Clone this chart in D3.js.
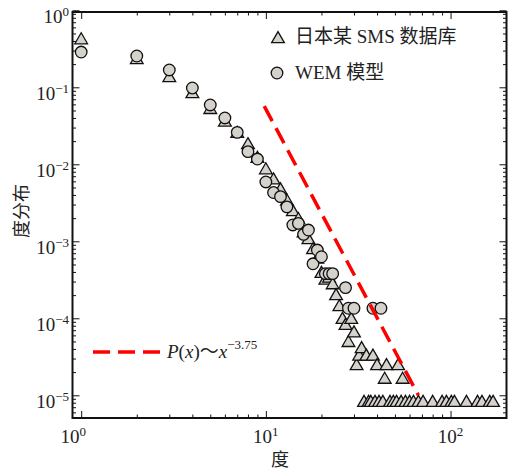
<!DOCTYPE html>
<html>
<head>
<meta charset="utf-8">
<script src="https://cdn.jsdelivr.net/npm/d3@7"></script>
<style>
  body { margin: 0; background: #fff; }
  text { font-family: "Liberation Serif", "Noto Sans CJK SC", serif; fill: #222; }
</style>
</head>
<body>
<script>
// SMS data (triangles)
var smsDeg = [1, 2, 3, 4, 5, 6, 7, 8, 9, 10, 11, 12, 13, 14, 15, 16, 17, 18, 19, 20,
  21, 22, 23, 24, 25, 26, 27, 28, 29, 30, 31, 32, 33, 35, 38, 40, 44, 45, 52, 55,
  34, 36, 37, 39, 41, 43, 47, 49, 51, 54, 57, 60, 63, 67,
  71, 80, 90, 95, 101, 105, 122, 140, 148, 163, 170];
var smsP = [0.41, 0.226, 0.132, 0.082, 0.051, 0.035, 0.025, 0.0178, 0.0118, 0.0084,
  0.0062, 0.0046, 0.0033, 0.0024, 0.0019, 0.00127, 0.00104, 0.00077, 0.00058, 0.00038,
  0.00031, 0.00033, 0.00027, 0.000195, 0.00014, 9.6e-5, 8.0e-5, 4.8e-5, 9.6e-5, 6.4e-5,
  2.4e-5, 3.2e-5, 4.0e-5, 3.2e-5, 3.2e-5, 2.4e-5, 1.6e-5, 2.4e-5, 2.4e-5, 1.6e-5,
  8e-6, 8e-6, 8e-6, 8e-6, 8e-6, 8e-6, 8e-6, 8e-6, 8e-6, 8e-6, 8e-6, 8e-6, 8e-6, 8e-6,
  8e-6, 8e-6, 8e-6, 8e-6, 8e-6, 8e-6, 8e-6, 8e-6, 8e-6, 8e-6, 8e-6];

// WEM model (circles)
var wemDeg = [1, 2, 3, 4, 5, 6, 7, 8, 9, 10, 11, 12, 13, 14, 15, 16, 17, 18, 19, 20,
  21, 22, 23, 27, 28, 30, 38, 42];
var wemP = [0.287, 0.255, 0.168, 0.098, 0.059, 0.040, 0.026, 0.0146, 0.0117, 0.0059,
  0.0043, 0.0038, 0.0028, 0.00163, 0.00171, 0.00123, 0.0014, 0.00051, 0.00077, 0.00063,
  0.00038, 0.00038, 0.00038, 0.00025, 0.000135, 0.000135, 0.000135, 0.000135];

// power-law guide line end points
var fitDeg = [9.8, 67];
var fitP = [0.057, 1.0e-5];

var xMajor = [1, 10, 100];
var xExp = ["0", "1", "2"];
var yMajor = [1, 1e-1, 1e-2, 1e-3, 1e-4, 1e-5];
var yExp = ["0", "\u22121", "\u22122", "\u22123", "\u22124", "\u22125"];
var legendLabels = ["日本某 SMS 数据库", "WEM 模型"];

var width = 508, height = 472;
var plotL = 72.5, plotR = 506.5, plotT = 12, plotB = 418;

var svg = d3.select("body").append("svg")
  .attr("width", width)
  .attr("height", height);

var x = d3.scaleLog()
  .domain([Math.pow(10, -0.047), Math.pow(10, 2.303)])
  .range([plotL, plotR]);
var y = d3.scaleLog()
  .domain([Math.pow(10, -5.295), Math.pow(10, -0.022)])
  .range([plotB, plotT]);

function isPow10(v) {
  return Math.abs(Math.log10(v) - Math.round(Math.log10(v))) < 1e-6;
}
function inside(s) {
  var d = s.domain();
  return function(v) { return v > d[0] * 1.01 && v < d[1] * 0.99; };
}
var xMinor = x.ticks().filter(inside(x)).filter(v => !isPow10(v));
var yMinor = y.ticks().filter(inside(y)).filter(v => !isPow10(v));

// ticks, pointing inward on all four sides
function tickAxis(axis, vals, size, tr) {
  var g = svg.append("g").attr("transform", tr)
    .call(axis.tickValues(vals).tickSize(size).tickFormat(""));
  g.select(".domain").remove();
  g.selectAll("line").attr("stroke", "#111").attr("stroke-width", 1);
}
tickAxis(d3.axisBottom(x), xMajor, -7, "translate(0," + plotB + ")");
tickAxis(d3.axisBottom(x), xMinor, -3.5, "translate(0," + plotB + ")");
tickAxis(d3.axisTop(x), xMajor, -7, "translate(0," + plotT + ")");
tickAxis(d3.axisTop(x), xMinor, -3.5, "translate(0," + plotT + ")");
tickAxis(d3.axisLeft(y), yMajor, -7, "translate(" + plotL + ",0)");
tickAxis(d3.axisLeft(y), yMinor, -3.5, "translate(" + plotL + ",0)");
tickAxis(d3.axisRight(y), yMajor, -7, "translate(" + plotR + ",0)");
tickAxis(d3.axisRight(y), yMinor, -3.5, "translate(" + plotR + ",0)");

// frame
svg.append("rect")
  .attr("x", plotL).attr("y", plotT)
  .attr("width", plotR - plotL).attr("height", plotB - plotT)
  .attr("fill", "none").attr("stroke", "#111").attr("stroke-width", 2);

// tick labels
xMajor.forEach(function(v, i) {
  var t = svg.append("text")
    .attr("x", x(v) + (i === 0 ? -8 : 0))
    .attr("y", 443)
    .attr("text-anchor", "middle")
    .attr("font-size", 19);
  t.append("tspan").text("10");
  t.append("tspan").attr("font-size", 13).attr("dy", -7).text(xExp[i]);
});
yMajor.forEach(function(v, i) {
  var t = svg.append("text")
    .attr("x", 69)
    .attr("y", y(v) + 13)
    .attr("text-anchor", "end")
    .attr("font-size", 19);
  t.append("tspan").text("10");
  t.append("tspan").attr("font-size", 13).attr("dy", -7.5).text(yExp[i]);
});

// axis titles
svg.append("text")
  .attr("transform", "translate(22,211) rotate(-90)")
  .attr("text-anchor", "middle")
  .attr("dominant-baseline", "central")
  .attr("font-size", 18)
  .text("度分布");
svg.append("text")
  .attr("x", 280).attr("y", 466)
  .attr("text-anchor", "middle")
  .attr("font-size", 18)
  .text("度");

var markFill = "#d5d2cc";
var tri = d3.symbol().type(d3.symbolTriangle).size(70);

// triangles
svg.append("g").selectAll("path")
  .data(smsDeg.map((d, i) => [d, smsP[i]]))
  .join("path")
  .attr("d", tri)
  .attr("transform", d => "translate(" + x(d[0]) + "," + y(d[1]) + ")")
  .attr("fill", markFill).attr("stroke", "#111").attr("stroke-width", 1.3);

// circles
svg.append("g").selectAll("circle")
  .data(wemDeg.map((d, i) => [d, wemP[i]]))
  .join("circle")
  .attr("cx", d => x(d[0])).attr("cy", d => y(d[1]))
  .attr("r", 5.8)
  .attr("fill", markFill).attr("stroke", "#111").attr("stroke-width", 1.3);

// power law guide
var line = d3.line().x(d => x(d[0])).y(d => y(d[1]));
svg.append("path")
  .datum(fitDeg.map((d, i) => [d, fitP[i]]))
  .attr("d", line)
  .attr("fill", "none").attr("stroke", "#ff0000")
  .attr("stroke-width", 3.5).attr("stroke-dasharray", "17,8");

// legend
svg.append("path").attr("d", tri)
  .attr("transform", "translate(278,39)")
  .attr("fill", markFill).attr("stroke", "#111").attr("stroke-width", 1.3);
svg.append("circle").attr("cx", 277).attr("cy", 73).attr("r", 5.8)
  .attr("fill", markFill).attr("stroke", "#111").attr("stroke-width", 1.3);
legendLabels.forEach(function(s, i) {
  svg.append("text")
    .attr("x", 295).attr("y", 43 + i * 36)
    .attr("font-size", 19)
    .text(s);
});

svg.append("line")
  .attr("x1", 93).attr("x2", 161).attr("y1", 352).attr("y2", 352)
  .attr("stroke", "#ff0000").attr("stroke-width", 3.5).attr("stroke-dasharray", "17,8");
var fitLabel = svg.append("text").attr("x", 167).attr("y", 358).attr("font-size", 19);
fitLabel.append("tspan").attr("font-style", "italic").text("P");
fitLabel.append("tspan").text("(");
fitLabel.append("tspan").attr("font-style", "italic").text("x");
fitLabel.append("tspan").text(")～");
fitLabel.append("tspan").attr("font-style", "italic").text("x");
fitLabel.append("tspan").attr("font-size", 13).attr("dy", -9).text("\u22123.75");
</script>
</body>
</html>
